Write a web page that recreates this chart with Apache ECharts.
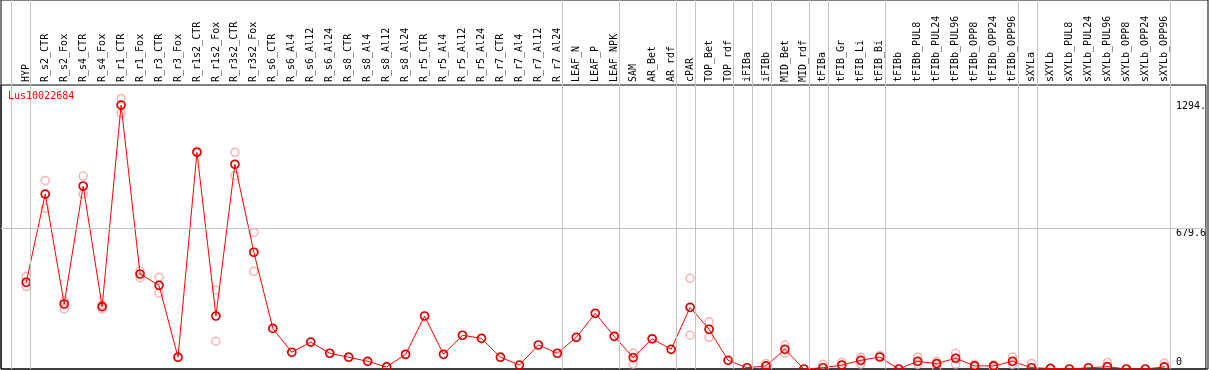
<!DOCTYPE html>
<html>
<head>
<meta charset="utf-8">
<script src="https://cdn.jsdelivr.net/npm/echarts@6/dist/echarts.min.js"></script>
<style>
  html, body { margin: 0; padding: 0; background: #fff; }
  #chart { width: 1209px; height: 370px; }
</style>
</head>
<body>
<div id="chart"></div>
<script>
const probeName = 'Lus10022684';

const categories = [
  'HYP', 'R_s2_CTR', 'R_s2_Fox', 'R_s4_CTR', 'R_s4_Fox', 'R_r1_CTR', 'R_r1_Fox',
  'R_r3_CTR', 'R_r3_Fox', 'R_r1s2_CTR', 'R_r1s2_Fox', 'R_r3s2_CTR', 'R_r3s2_Fox',
  'R_s6_CTR', 'R_s6_Al4', 'R_s6_Al12', 'R_s6_Al24', 'R_s8_CTR', 'R_s8_Al4',
  'R_s8_Al12', 'R_s8_Al24', 'R_r5_CTR', 'R_r5_Al4', 'R_r5_Al12', 'R_r5_Al24',
  'R_r7_CTR', 'R_r7_Al4', 'R_r7_Al12', 'R_r7_Al24', 'LEAF_N', 'LEAF_P', 'LEAF_NPK',
  'SAM', 'AR_Bet', 'AR_rdf', 'cPAR', 'TOP_Bet', 'TOP_rdf', 'iFIBa', 'iFIBb',
  'MID_Bet', 'MID_rdf', 'tFIBa', 'tFIB_Gr', 'tFIB_Li', 'tFIB_Bi', 'tFIBb',
  'tFIBb_PUL8', 'tFIBb_PUL24', 'tFIBb_PUL96', 'tFIBb_OPP8', 'tFIBb_OPP24', 'tFIBb_OPP96',
  'sXYLa', 'sXYLb', 'sXYLb_PUL8', 'sXYLb_PUL24', 'sXYLb_PUL96', 'sXYLb_OPP8',
  'sXYLb_OPP24', 'sXYLb_OPP96'
];

// mean expression per sample
const means = [
  419, 845, 314, 884, 301, 1275, 459, 404, 57, 1047, 256, 989, 564,
  196, 81, 130, 76, 57, 37, 10, 71, 256, 71, 163, 148, 57, 19, 116, 76,
  153, 269, 158, 55, 146, 95, 298, 192, 42, 6, 15, 95, 0, 6, 19, 42, 58, 0,
  37, 26, 52, 15, 15, 37, 6, 3, 0, 6, 11, 0, 0, 10
];

// replicates (null = hidden behind the mean marker)
const rep1 = [
  446, 911, 328, 932, 309, 1307, 473, 443, null, 1053, 380, 1047, 660,
  null, null, null, null, null, null, null, null, null, null, null, null, null, null, null, null,
  null, null, null, 76, null, null, 438, 228, null, null, 27, 116, null, 23, 32, 57, 65, null,
  58, 37, 76, 23, 20, 58, 27, null, null, null, 32, null, null, 29
];
const rep2 = [
  398, 776, 290, 845, 290, 1235, 441, 366, null, null, 134, 934, 472,
  null, null, null, null, null, null, null, null, null, null, null, null, null, null, null, null,
  null, null, null, 23, null, null, 163, 153, null, null, null, 76, null, null, null, 23, null, null,
  22, 3, 23, null, 3, 22, null, null, null, null, null, null, null, null
];

// group separators sit just after these sample indices
const separatorsAfter = [-1, 0, 28, 31, 34, 35, 37, 38, 39, 41, 42, 45, 52, 53, 60];

const yTickValues = [679.6, 1294];
const yTickLabels = ['679.6', '1294.'];
const yZeroValues = [0];

const xMin = -1.332, xMax = 62.195, yMax = 1372;
const font = 'DejaVu Sans Mono';

const chart = echarts.init(document.getElementById('chart'), null, { renderer: 'canvas' });

const option = {
  animation: false,
  backgroundColor: '#fff',
  title: {
    text: probeName,
    left: 8,
    top: 91,
    padding: 0,
    textStyle: { color: '#ff0000', fontSize: 10, fontWeight: 'normal', fontFamily: font }
  },
  grid: [
    { left: 1, right: 1, top: 0, bottom: 1, show: true, borderColor: '#000', borderWidth: 1 },
    { left: 1, right: 1, top: 85, bottom: 1, show: true, borderColor: '#000', borderWidth: 1 }
  ],
  xAxis: [
    { gridIndex: 0, type: 'value', min: xMin, max: xMax, show: false },
    {
      gridIndex: 1, type: 'value', min: xMin, max: xMax, position: 'top',
      axisLine: { show: false }, axisTick: { show: false }, splitLine: { show: false },
      axisLabel: {
        customValues: categories.map((c, i) => i),
        formatter: (v) => categories[v],
        rotate: 90,
        margin: 3,
        color: '#000',
        fontSize: 10,
        fontFamily: font
      }
    }
  ],
  yAxis: [
    { gridIndex: 0, type: 'value', min: 0, max: 1, show: false },
    {
      gridIndex: 1, type: 'value', min: 0, max: yMax, position: 'right',
      axisLine: { show: false }, axisTick: { show: false }, splitLine: { show: false },
      axisLabel: {
        inside: true,
        customValues: yTickValues,
        formatter: (v) => yTickLabels[yTickValues.indexOf(v)],
        align: 'left',
        verticalAlign: 'top',
        margin: 30,
        color: '#000',
        fontSize: 10,
        fontFamily: font
      }
    },
    {
      gridIndex: 1, type: 'value', min: 0, max: yMax, position: 'right',
      axisLine: { show: false }, axisTick: { show: false }, splitLine: { show: false },
      axisLabel: {
        inside: true,
        customValues: yZeroValues,
        formatter: (v) => String(v),
        align: 'left',
        verticalAlign: 'bottom',
        padding: [0, 0, 2, 0],
        margin: 30,
        color: '#000',
        fontSize: 10,
        fontFamily: font
      }
    }
  ],
  series: [
    {
      // group separators across the whole frame
      type: 'line',
      xAxisIndex: 0,
      yAxisIndex: 0,
      data: [],
      silent: true,
      markLine: {
        silent: true,
        symbol: ['none', 'none'],
        label: { show: false },
        lineStyle: { color: '#c4c4c4', type: 'solid', width: 1 },
        data: separatorsAfter.map((i) => ({ xAxis: i + 0.23 }))
      }
    },
    {
      type: 'scatter',
      xAxisIndex: 1,
      yAxisIndex: 1,
      data: rep1.map((v, i) => [i, v]).concat(rep2.map((v, i) => [i, v])).filter((d) => d[1] !== null),
      symbol: 'circle',
      symbolSize: 8,
      itemStyle: { color: 'rgba(0,0,0,0)', borderColor: '#f2a0a0', borderWidth: 1.5 },
      z: 3
    },
    {
      type: 'line',
      xAxisIndex: 1,
      yAxisIndex: 1,
      data: means.map((v, i) => [i, v]),
      symbol: 'circle',
      symbolSize: 8,
      showAllSymbol: true,
      lineStyle: { color: '#ff0000', width: 1 },
      itemStyle: { color: 'rgba(0,0,0,0)', borderColor: '#e00000', borderWidth: 1.7 },
      markLine: {
        silent: true,
        symbol: ['none', 'none'],
        label: { show: false },
        lineStyle: { color: '#c4c4c4', type: 'solid', width: 1 },
        data: [{ yAxis: yTickValues[0] }]
      },
      z: 4
    }
  ]
};

chart.setOption(option);
</script>
</body>
</html>
